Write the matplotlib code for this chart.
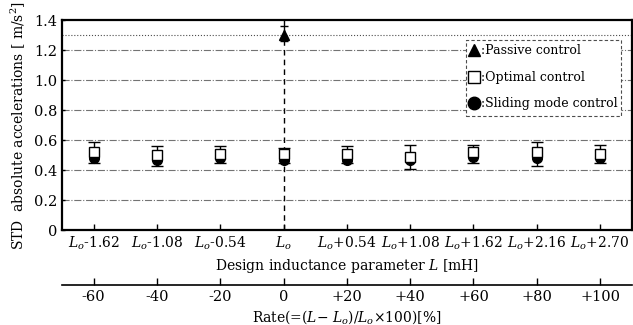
import matplotlib.pyplot as plt
import numpy as np

plt.rcParams['font.family'] = ['DejaVu Serif']
plt.rcParams['mathtext.fontset'] = 'dejavuserif'

# data
labels = [r'$L_o$-1.62', r'$L_o$-1.08', r'$L_o$-0.54', r'$L_o$', r'$L_o$+0.54',
          r'$L_o$+1.08', r'$L_o$+1.62', r'$L_o$+2.16', r'$L_o$+2.70']
rate = [-60, -40, -20, 0, 20, 40, 60, 80, 100]
rate_labels = ['-60', '-40', '-20', '0', '+20', '+40', '+60', '+80', '+100']
optimal = [0.52, 0.50, 0.51, 0.51, 0.51, 0.49, 0.52, 0.52, 0.51]
opt_hi = [0.59, 0.56, 0.56, 0.55, 0.56, 0.57, 0.57, 0.59, 0.57]
opt_lo = [0.45, 0.43, 0.45, 0.45, 0.45, 0.41, 0.45, 0.43, 0.45]
sliding = [0.48, 0.47, 0.48, 0.47, 0.47, 0.47, 0.49, 0.48, 0.48]
passive = 1.30
passive_err = [1.26, 1.36]
legend_names = ['Passive control', 'Optimal control', 'Sliding mode control']

x = np.arange(len(labels))

fig = plt.figure(figsize=(6.33, 3.25), dpi=100)
ax = fig.add_axes([0.098, 0.292, 0.9, 0.646])

for y in [0.2, 0.4, 0.6, 0.8, 1.0, 1.2]:
    ax.axhline(y, color='0.45', lw=0.8, ls='-.', zorder=0)
ax.axhline(passive, color='0.3', lw=0.8, ls=':', zorder=0)
ax.axvline(3, color='black', lw=1, ls=(0, (4, 3)), zorder=1)

# sliding mode (filled circles)
ax.plot(x, sliding, 'o', color='black', ms=7, zorder=3)
# optimal (open squares with error bars)
err = [np.array(optimal) - np.array(opt_lo), np.array(opt_hi) - np.array(optimal)]
ax.errorbar(x, optimal, yerr=err, fmt='s', mfc='white', mec='black', ms=7,
            ecolor='black', elinewidth=1, capsize=4, capthick=1, zorder=4)
# passive
ax.errorbar([3], [passive], yerr=[[passive - passive_err[0]], [passive_err[1] - passive]],
            fmt='^', color='black', ms=7, capsize=3, elinewidth=1, zorder=4)

ax.set_xlim(-0.5, 8.5)
ax.set_ylim(0, 1.4)
ax.set_yticks([0, 0.2, 0.4, 0.6, 0.8, 1.0, 1.2, 1.4])
ax.set_yticklabels(['0', '0.2', '0.4', '0.6', '0.8', '1.0', '1.2', '1.4'])
ax.set_xticks(x)
ax.set_xticklabels(labels)
ax.tick_params(direction='in', labelsize=10, length=4, width=1)
ax.tick_params(axis='y', length=2, labelsize=10.5)
for s in ax.spines.values():
    s.set_linewidth(1.6)
ax.set_xlabel(r'Design inductance parameter $L$ [mH]', fontsize=10, labelpad=3)
ax.set_ylabel(r'STD  absolute accelerations [ m/s$^2$]', fontsize=10, labelpad=4)

# legend drawn as a dashed box with marker + text entries
leg_box = plt.Rectangle((0.709, 0.543), 0.273, 0.362, transform=ax.transAxes,
                        fc='white', ec='0.3', lw=0.8, ls=(0, (3, 2)), zorder=5)
ax.add_patch(leg_box)
leg_y = [0.857, 0.729, 0.605]
leg_style = [dict(marker='^', mfc='black'), dict(marker='s', mfc='white'),
             dict(marker='o', mfc='black')]
for yy, name, st in zip(leg_y, legend_names, leg_style):
    ax.plot([0.724], [yy], transform=ax.transAxes, ls='none', mec='black', ms=9,
            zorder=6, clip_on=False, **st)
    ax.text(0.736, yy, ':' + name, transform=ax.transAxes, fontsize=9,
            va='center', zorder=6)

# secondary rate axis
ax2 = fig.add_axes([0.098, 0.123, 0.9, 0.001])
ax2.set_xlim(-0.5, 8.5)
ax2.set_yticks([])
for k in ['top', 'left', 'right']:
    ax2.spines[k].set_visible(False)
ax2.spines['bottom'].set_linewidth(1.2)
ax2.set_xticks(x)
ax2.set_xticklabels(rate_labels)
ax2.tick_params(direction='in', length=5, width=1, labelsize=10.5)
ax2.set_xlabel(r'Rate(=($L$$-$ $L_o$)/$L_o$$\times$100)[%]', fontsize=10, labelpad=3)

fig.savefig('out.png', dpi=100)
